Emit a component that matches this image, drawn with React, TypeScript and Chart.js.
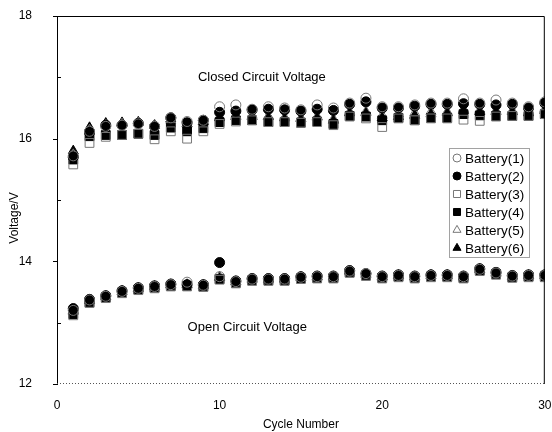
import React, { useEffect, useRef } from 'react';
import { Chart, registerables } from 'chart.js';

Chart.register(...registerables);

const CYCLES = [1, 2, 3, 4, 5, 6, 7, 8, 9, 10, 11, 12, 13, 14, 15, 16, 17, 18, 19, 20, 21, 22, 23, 24, 25, 26, 27, 28, 29, 30];

const SERIES_LABELS = ['Battery(1)', 'Battery(2)', 'Battery(3)', 'Battery(4)', 'Battery(5)', 'Battery(6)'];

// Closed circuit voltage (upper group)
const CCV_B1 = [15.72, 16.12, 16.2, 16.22, 16.24, 16.2, 16.34, 16.28, 16.3, 16.52, 16.55, 16.48, 16.52, 16.5, 16.47, 16.55, 16.5, 16.58, 16.66, 16.52, 16.52, 16.55, 16.58, 16.58, 16.65, 16.58, 16.63, 16.58, 16.52, 16.6];
const CCV_B2 = [15.7, 16.1, 16.22, 16.22, 16.25, 16.2, 16.34, 16.26, 16.3, 16.43, 16.45, 16.47, 16.48, 16.47, 16.45, 16.48, 16.46, 16.56, 16.6, 16.5, 16.5, 16.53, 16.56, 16.56, 16.57, 16.56, 16.55, 16.56, 16.5, 16.58];
const CCV_B3 = [15.58, 15.93, 16.03, 16.06, 16.08, 15.99, 16.12, 16.0, 16.12, 16.24, 16.28, 16.3, 16.27, 16.27, 16.26, 16.27, 16.22, 16.36, 16.33, 16.19, 16.33, 16.3, 16.33, 16.33, 16.31, 16.29, 16.36, 16.37, 16.37, 16.4];
const CCV_B4 = [15.66, 16.04, 16.06, 16.06, 16.08, 16.06, 16.18, 16.12, 16.17, 16.27, 16.3, 16.3, 16.27, 16.27, 16.26, 16.28, 16.24, 16.37, 16.36, 16.3, 16.34, 16.3, 16.34, 16.34, 16.4, 16.38, 16.37, 16.37, 16.37, 16.4];
const CCV_B5 = [15.74, 16.14, 16.22, 16.24, 16.26, 16.22, 16.3, 16.24, 16.28, 16.36, 16.38, 16.38, 16.36, 16.34, 16.33, 16.36, 16.32, 16.44, 16.44, 16.38, 16.4, 16.42, 16.44, 16.44, 16.48, 16.46, 16.46, 16.46, 16.44, 16.48];
const CCV_B6 = [15.8, 16.18, 16.25, 16.26, 16.27, 16.22, 16.32, 16.24, 16.28, 16.34, 16.36, 16.36, 16.36, 16.34, 16.33, 16.35, 16.3, 16.42, 16.42, 16.34, 16.36, 16.38, 16.4, 16.42, 16.46, 16.44, 16.44, 16.44, 16.42, 16.46];

// Open circuit voltage (lower group)
const OCV_B1 = [13.2, 13.37, 13.43, 13.51, 13.56, 13.59, 13.62, 13.66, 13.61, 13.75, 13.67, 13.71, 13.71, 13.71, 13.74, 13.75, 13.75, 13.84, 13.8, 13.75, 13.77, 13.75, 13.77, 13.77, 13.75, 13.87, 13.81, 13.76, 13.77, 13.77];
const OCV_B2 = [13.23, 13.38, 13.44, 13.52, 13.57, 13.6, 13.63, 13.62, 13.62, 13.98, 13.68, 13.72, 13.72, 13.72, 13.75, 13.76, 13.76, 13.85, 13.8, 13.76, 13.78, 13.76, 13.78, 13.78, 13.76, 13.88, 13.82, 13.77, 13.78, 13.78];
const OCV_B3 = [13.12, 13.32, 13.4, 13.48, 13.53, 13.56, 13.59, 13.59, 13.58, 13.7, 13.64, 13.68, 13.68, 13.68, 13.71, 13.72, 13.72, 13.81, 13.76, 13.72, 13.74, 13.72, 13.74, 13.74, 13.72, 13.84, 13.78, 13.73, 13.74, 13.74];
const OCV_B4 = [13.14, 13.33, 13.41, 13.49, 13.54, 13.57, 13.6, 13.6, 13.59, 13.71, 13.65, 13.69, 13.69, 13.69, 13.72, 13.73, 13.73, 13.82, 13.77, 13.73, 13.75, 13.73, 13.75, 13.75, 13.73, 13.85, 13.79, 13.74, 13.75, 13.75];
const OCV_B5 = [13.18, 13.36, 13.42, 13.5, 13.55, 13.58, 13.61, 13.61, 13.6, 13.74, 13.66, 13.7, 13.7, 13.7, 13.73, 13.74, 13.74, 13.83, 13.78, 13.74, 13.76, 13.74, 13.76, 13.76, 13.74, 13.86, 13.8, 13.75, 13.76, 13.76];
const OCV_B6 = [13.2, 13.36, 13.43, 13.51, 13.56, 13.59, 13.62, 13.62, 13.61, 13.74, 13.67, 13.71, 13.71, 13.71, 13.74, 13.75, 13.75, 13.84, 13.79, 13.75, 13.77, 13.75, 13.77, 13.77, 13.75, 13.87, 13.81, 13.76, 13.77, 13.77];

const CCV = [CCV_B1, CCV_B2, CCV_B3, CCV_B4, CCV_B5, CCV_B6];
const OCV = [OCV_B1, OCV_B2, OCV_B3, OCV_B4, OCV_B5, OCV_B6];

const Y_MAJOR_TICKS = [12, 14, 16, 18];
const Y_MINOR_TICKS = [13, 15, 17];
const X_TICKS = [0, 10, 20, 30];

const Y_TITLE = 'Voltage/V';
const X_TITLE = 'Cycle Number';
const LABEL_CLOSED = { text: 'Closed Circuit Voltage', x: 12.6, y: 17.0 };
const LABEL_OPEN = { text: 'Open Circuit Voltage', x: 11.7, y: 12.93 };

const FONT = "'Liberation Sans', Arial, sans-serif";

const STYLES = [
  { pointStyle: 'circle', fill: 'rgba(0,0,0,0)', stroke: '#777', radius: 5 },
  { pointStyle: 'circle', fill: '#000', stroke: '#000', radius: 5 },
  { pointStyle: 'rect', fill: 'rgba(0,0,0,0)', stroke: '#777', radius: 6.2 },
  { pointStyle: 'rect', fill: '#000', stroke: '#000', radius: 6.2 },
  { pointStyle: 'triangle', fill: 'rgba(0,0,0,0)', stroke: '#777', radius: 5.8 },
  { pointStyle: 'triangle', fill: '#000', stroke: '#000', radius: 5.8 },
];

function drawMarker(ctx: CanvasRenderingContext2D, style: string, x: number, y: number, r: number, fill: string, stroke: string) {
  ctx.save();
  ctx.beginPath();
  if (style === 'circle') {
    ctx.arc(x, y, r, 0, Math.PI * 2);
  } else if (style === 'rect') {
    const s = Math.SQRT1_2 * r;
    ctx.rect(x - s, y - s, 2 * s, 2 * s);
  } else {
    let a = 0;
    ctx.moveTo(x + Math.sin(a) * r, y - Math.cos(a) * r);
    a += (2 * Math.PI) / 3;
    ctx.lineTo(x + Math.sin(a) * r, y - Math.cos(a) * r);
    a += (2 * Math.PI) / 3;
    ctx.lineTo(x + Math.sin(a) * r, y - Math.cos(a) * r);
    ctx.closePath();
  }
  ctx.fillStyle = fill;
  ctx.fill();
  ctx.strokeStyle = stroke;
  ctx.lineWidth = 1;
  ctx.stroke();
  ctx.restore();
}

const framePlugin = {
  id: 'framePlugin',
  afterDraw(chart: any) {
    const { ctx, chartArea, scales } = chart;
    const { left, right, top, bottom } = chartArea;
    const ys = scales.y;
    const xs = scales.x;
    ctx.save();
    ctx.strokeStyle = '#000';
    ctx.lineWidth = 1;
    ctx.beginPath();
    ctx.moveTo(left + 0.5, bottom);
    ctx.lineTo(left + 0.5, top + 0.5);
    ctx.lineTo(right - 0.5, top + 0.5);
    ctx.lineTo(right - 0.5, bottom);
    ctx.stroke();
    ctx.setLineDash([1, 2]);
    ctx.strokeStyle = '#555';
    ctx.beginPath();
    ctx.moveTo(left, bottom - 0.5);
    ctx.lineTo(right, bottom - 0.5);
    ctx.stroke();
    ctx.setLineDash([]);
    ctx.strokeStyle = '#000';
    Y_MAJOR_TICKS.forEach((v) => {
      const py = Math.round(ys.getPixelForValue(v)) + 0.5;
      ctx.beginPath();
      ctx.moveTo(left - 4, py);
      ctx.lineTo(left + 1, py);
      ctx.stroke();
    });
    Y_MINOR_TICKS.forEach((v) => {
      const py = Math.round(ys.getPixelForValue(v)) + 0.5;
      ctx.beginPath();
      ctx.moveTo(left, py);
      ctx.lineTo(left + 4, py);
      ctx.stroke();
    });

    // y axis title
    ctx.fillStyle = '#000';
    ctx.font = `12px ${FONT}`;
    ctx.textAlign = 'center';
    ctx.textBaseline = 'middle';
    ctx.save();
    ctx.translate(15, 218);
    ctx.rotate(-Math.PI / 2);
    ctx.fillText(Y_TITLE, 0, 0);
    ctx.restore();

    // annotations
    ctx.font = `13px ${FONT}`;
    ctx.fillText(LABEL_CLOSED.text, xs.getPixelForValue(LABEL_CLOSED.x), ys.getPixelForValue(LABEL_CLOSED.y));
    ctx.fillText(LABEL_OPEN.text, xs.getPixelForValue(LABEL_OPEN.x), ys.getPixelForValue(LABEL_OPEN.y));

    // legend
    const boxL = 449, boxT = 148, boxW = 80, rowH = 18;
    const boxH = rowH * SERIES_LABELS.length + 1;
    ctx.setLineDash([1, 1]);
    ctx.strokeStyle = '#444';
    ctx.fillStyle = '#fff';
    ctx.fillRect(boxL, boxT, boxW, boxH);
    ctx.strokeRect(boxL + 0.5, boxT + 0.5, boxW, boxH);
    ctx.setLineDash([]);
    ctx.textAlign = 'left';
    ctx.font = `13.5px ${FONT}`;
    SERIES_LABELS.forEach((lab, i) => {
      const cy = boxT + 10 + i * rowH;
      const s = STYLES[i];
      drawMarker(ctx, s.pointStyle, boxL + 8, cy, s.radius * 0.8, s.fill, s.stroke);
      ctx.fillStyle = '#000';
      ctx.fillText(lab, boxL + 16, cy + 1);
    });
    ctx.restore();
  },
};

export default function App() {
  const canvasRef = useRef<HTMLCanvasElement | null>(null);

  useEffect(() => {
    if (!canvasRef.current) return;
    const datasets = SERIES_LABELS.map((label, i) => {
      const s = STYLES[i];
      const closed = CYCLES.map((c, j) => ({ x: c, y: CCV[i][j] }));
      const open = CYCLES.map((c, j) => ({ x: c, y: OCV[i][j] }));
      return {
        label,
        data: [...closed, ...open],
        showLine: false,
        pointStyle: s.pointStyle,
        pointRadius: s.radius,
        pointHoverRadius: s.radius,
        pointBackgroundColor: s.fill,
        pointBorderColor: s.stroke,
        pointBorderWidth: 1,
        backgroundColor: s.fill,
        borderColor: s.stroke,
      };
    });
    const chart = new Chart(canvasRef.current, {
      type: 'scatter',
      data: { datasets: datasets as any },
      options: {
        animation: false,
        responsive: true,
        maintainAspectRatio: false,
        layout: { padding: { top: 16, right: 6, left: 0, bottom: 0 } },
        plugins: { legend: { display: false }, tooltip: { enabled: false } },
        scales: {
          x: {
            type: 'linear',
            min: 0,
            max: 30,
            afterBuildTicks: (scale: any) => {
              scale.ticks = X_TICKS.map((v) => ({ value: v }));
            },
            afterFit: (scale: any) => {
              scale.height = 48;
              scale.paddingLeft = 0;
              scale.paddingRight = 0;
              scale.paddingTop = 0;
              scale.paddingBottom = 0;
            },
            ticks: { color: '#000', font: { family: FONT, size: 12 }, padding: 14, maxRotation: 0 },
            grid: { display: false, drawTicks: false },
            border: { display: false },
            title: { display: true, text: X_TITLE, color: '#000', font: { family: FONT, size: 12 }, padding: { top: 2, bottom: 0 } },
          },
          y: {
            type: 'linear',
            min: 12,
            max: 18,
            afterBuildTicks: (scale: any) => {
              scale.ticks = Y_MAJOR_TICKS.map((v) => ({ value: v }));
            },
            afterFit: (scale: any) => {
              scale.width = 57;
              scale.paddingLeft = 0;
              scale.paddingRight = 0;
              scale.paddingTop = 0;
              scale.paddingBottom = 0;
            },
            ticks: { color: '#000', font: { family: FONT, size: 12 }, padding: 25 },
            grid: { display: false, drawTicks: false },
            border: { display: false },
            title: { display: false },
          },
        },
      },
      plugins: [framePlugin],
    });
    return () => chart.destroy();
  }, []);

  return (
    <div style={{ position: 'fixed', left: 0, top: 0, width: 552, height: 432, background: '#fff' }}>
      <canvas ref={canvasRef} />
    </div>
  );
}
